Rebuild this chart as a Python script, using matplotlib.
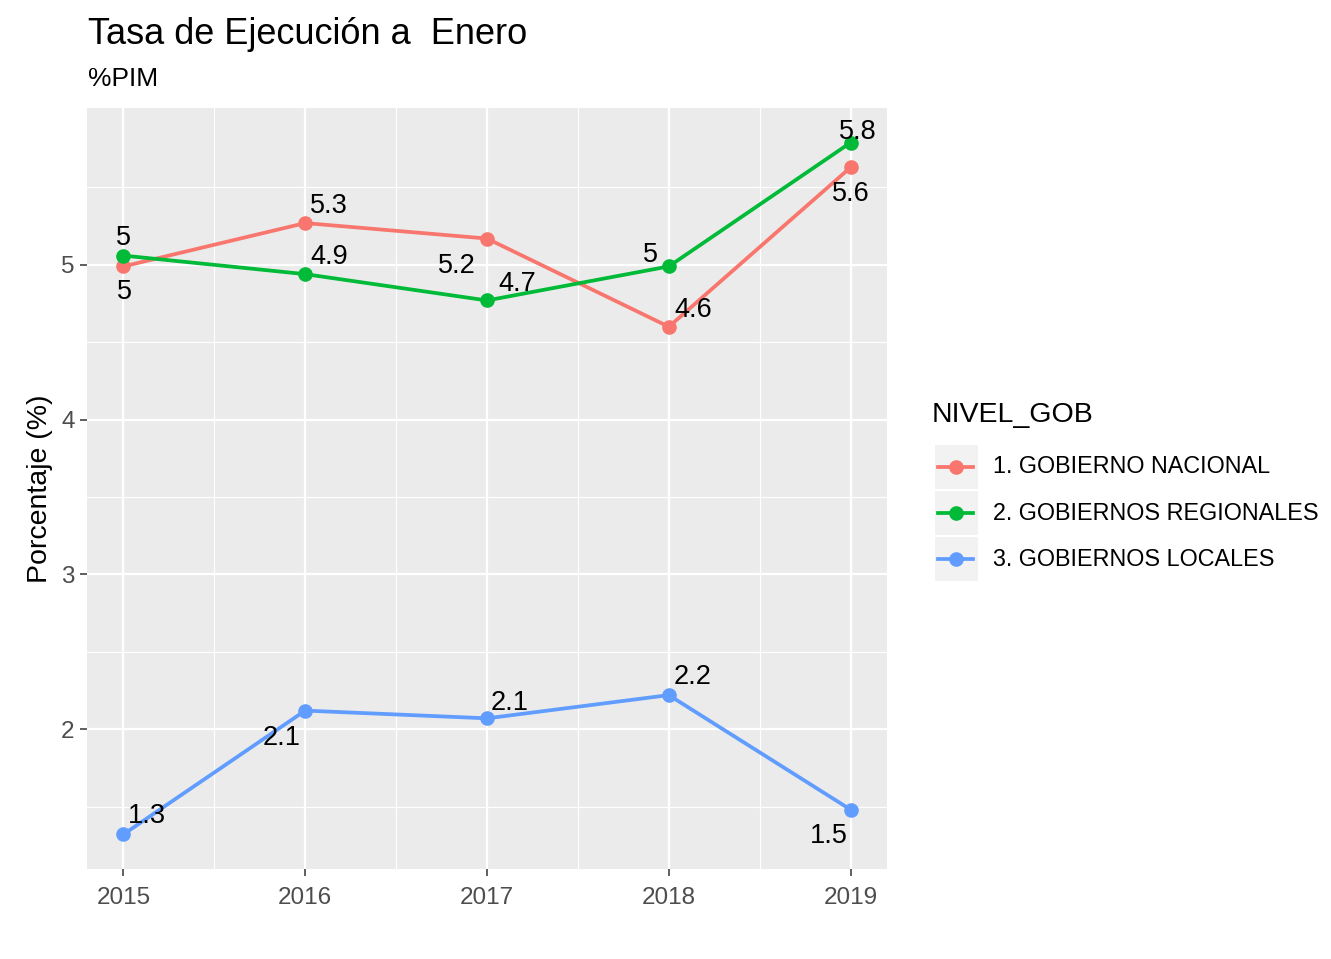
import numpy as np
import matplotlib
matplotlib.use("Agg")
import matplotlib.pyplot as plt
from matplotlib.patches import Rectangle
from matplotlib.lines import Line2D

plt.rcParams['font.family'] = ['Liberation Sans', 'DejaVu Sans']

# data
years = [2015, 2016, 2017, 2018, 2019]
series_names = ['1. GOBIERNO NACIONAL', '2. GOBIERNOS REGIONALES', '3. GOBIERNOS LOCALES']
nacional = [4.99, 5.27, 5.17, 4.60, 5.63]
regionales = [5.06, 4.94, 4.77, 4.99, 5.79]
locales = [1.32, 2.12, 2.07, 2.22, 1.48]
nacional_lbl = ['5', '5.3', '5.2', '4.6', '5.6']
regionales_lbl = ['5', '4.9', '4.7', '5', '5.8']
locales_lbl = ['1.3', '2.1', '2.1', '2.2', '1.5']

colors = ['#F8766D', '#00BA38', '#619CFF']
# label offsets in pixels (dx right, dy down) - mimic jittered geom_text
offsets = [
    [(1, 26), (24, -17), (-30, 27), (24, -17), (0, 27)],
    [(0, -18), (24, -17), (30, -16), (-18, -11), (7, -11)],
    [(24, -18), (-24, 27), (23, -15), (24, -18), (-22, 26)],
]

W, H = 1331, 959
fig = plt.figure(figsize=(W / 100, H / 100), dpi=100)
fig.patch.set_facecolor('white')

def fx(px):
    return px / W

def fy(py):
    return 1 - py / H

ax = fig.add_axes([fx(87), fy(869), fx(887) - fx(87), fy(108) - fy(869)])
ax.set_facecolor('#EBEBEB')
for s in ax.spines.values():
    s.set_visible(False)

all_vals = np.array(nacional + regionales + locales)
lo, hi = all_vals.min(), all_vals.max()
pad = (hi - lo) * 0.05
ax.set_ylim(lo - pad, hi + pad)
ax.set_xlim(years[0] - 0.2, years[-1] + 0.2)

ax.set_yticks([2, 3, 4, 5])
ax.set_yticks([1.5, 2.5, 3.5, 4.5, 5.5], minor=True)
ax.set_xticks(years)
ax.set_xticks([2015.5, 2016.5, 2017.5, 2018.5], minor=True)
ax.grid(which='major', color='white', linewidth=1.6)
ax.grid(which='minor', color='white', linewidth=0.8)
ax.set_axisbelow(True)
ax.tick_params(which='major', length=5, width=1.1, color='#333333',
               labelsize=17.5, labelcolor='#4D4D4D', pad=4)
ax.tick_params(axis='x', which='major', pad=8)
ax.tick_params(which='minor', length=0)
ax.set_ylabel('Porcentaje (%)', fontsize=20.5, color='black', labelpad=6)

for vals, lbls, col, offs in zip([nacional, regionales, locales],
                                 [nacional_lbl, regionales_lbl, locales_lbl],
                                 colors, offsets):
    ax.plot(years, vals, color=col, linewidth=2.7, marker='o', markersize=9.5, zorder=3)
    for x, y, t, (dx, dy) in zip(years, vals, lbls, offs):
        ax.annotate(t, (x, y), xytext=(dx * 0.72, -dy * 0.72), textcoords='offset points',
                    ha='center', va='center', fontsize=19.5, color='black', zorder=4)

fig.text(fx(88), fy(34), 'Tasa de Ejecución a  Enero', fontsize=26, ha='left', va='center')
fig.text(fx(88), fy(79), '%PIM', fontsize=19, ha='left', va='center')

# legend drawn by hand, ggplot style
fig.text(fx(932), fy(415), 'NIVEL_GOB', fontsize=20.5, ha='left', va='center')
for i, (name, col) in enumerate(zip(series_names, colors)):
    top = 445 + i * 46
    fig.add_artist(Rectangle((fx(935), fy(top + 44)), fx(43), fy(top) - fy(top + 44),
                             transform=fig.transFigure, facecolor='#F2F2F2', edgecolor='none'))
    yc = fy(top + 22)
    fig.add_artist(Line2D([fx(938), fx(973)], [yc, yc], transform=fig.transFigure,
                          color=col, linewidth=2.7))
    fig.add_artist(Line2D([fx(955.5)], [yc], transform=fig.transFigure,
                          color=col, marker='o', markersize=9.5, linestyle='none'))
    fig.text(fx(993), yc, name, fontsize=16.8, ha='left', va='center')

fig.savefig('out.png', dpi=100)
